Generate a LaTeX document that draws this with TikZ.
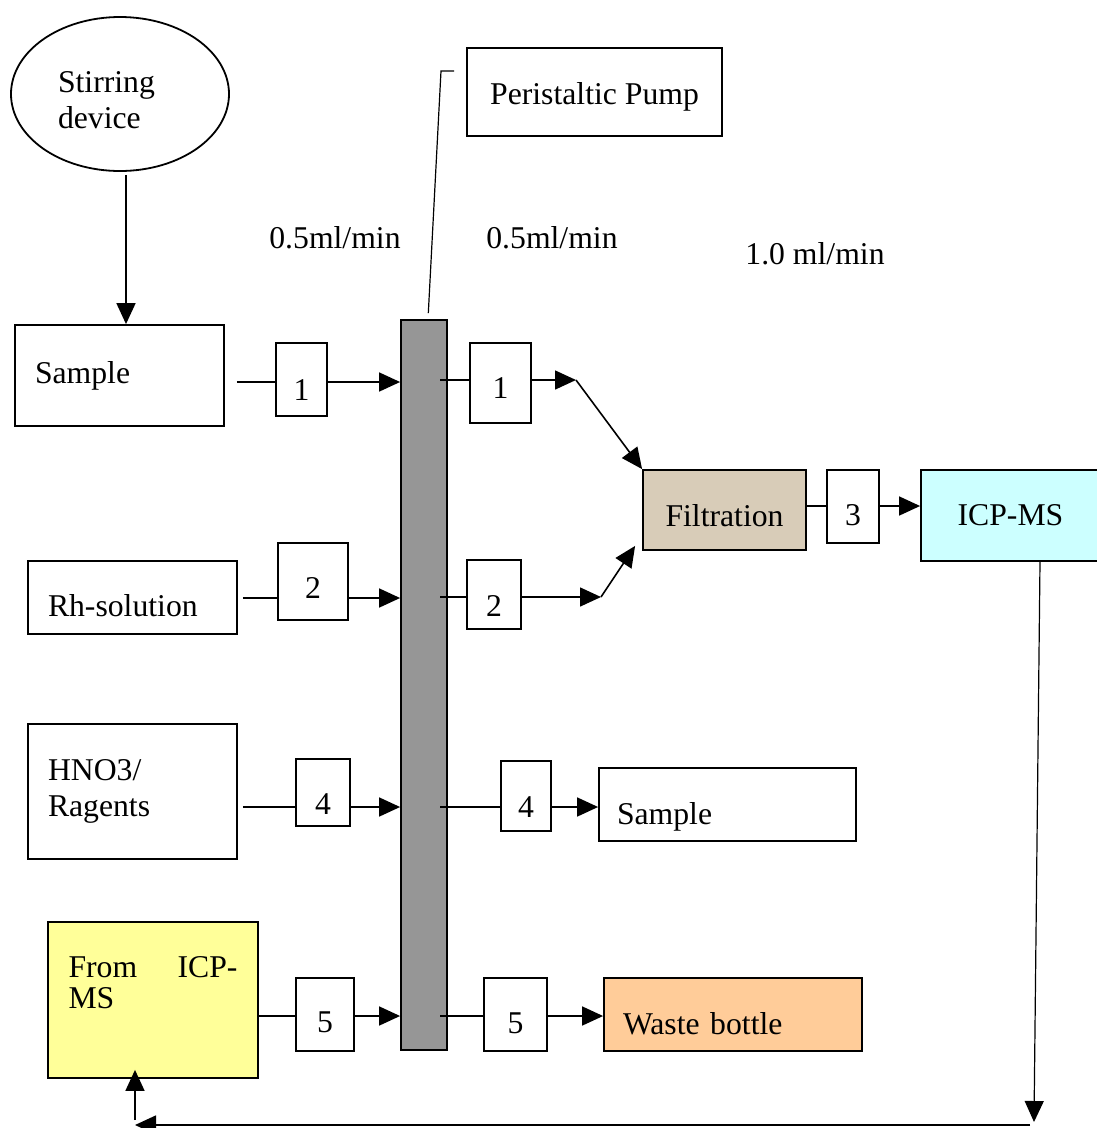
\documentclass[tikz,border=0pt]{standalone}
\usepackage{fontspec}
\setmainfont{Liberation Serif}
\usetikzlibrary{shapes.geometric,arrows.meta}
\definecolor{barGray}{RGB}{150,150,150}
\definecolor{filtBeige}{RGB}{216,204,184}
\definecolor{icpCyan}{RGB}{204,255,255}
\definecolor{fromYellow}{RGB}{255,255,153}
\definecolor{wasteOrange}{RGB}{255,204,153}
\begin{document}
\begin{tikzpicture}[x=1pt,y=-1pt,
  font=\fontsize{31.7}{36}\selectfont,
  box/.style={draw, line width=1.8pt, inner sep=0pt},
  numbox/.style={box, fill=white, text height=#1, text depth=0pt},
  numbox/.default=21.4pt,
  wire/.style={line width=1.6pt},
  arr/.style={wire, -{Triangle[length=21pt,width=19pt]}},
  lbox/.style={box, align=left}]
\useasboundingbox (0,0) rectangle (1096,1128);

% main nodes
\node[box, ellipse, minimum width=218pt, minimum height=154pt, text width=124pt, align=left, text height=33.6pt] (stir) at (120,94) {Stirring\\device};
\node[box, minimum width=255pt, minimum height=88pt, text height=24.7pt, text depth=0pt] (pump) at (594.5,92) {Peristaltic Pump};
\node[box, fill=barGray, minimum width=46pt, minimum height=730pt] (bar) at (424,685) {};
\node[lbox, minimum width=209pt, minimum height=101pt, text width=169pt] (sample) at (119.5,375.5) {Sample};
\node[lbox, minimum width=209pt, minimum height=73pt, text width=169pt, text height=38pt, text depth=0pt] (rh) at (132.5,597.5) {Rh-solution};
\node[lbox, minimum width=209pt, minimum height=135pt, text width=169pt] (hno) at (132.5,791.5) {HNO3/\\Ragents};
\node[lbox, fill=fromYellow, minimum width=210pt, minimum height=156pt, text width=169pt] (from) at (153,1000) {From\hfill ICP-\\[-5pt]MS\\~};
\node[lbox, minimum width=257pt, minimum height=73pt, text width=221pt, text height=40pt, text depth=0pt] (sample2) at (727.5,804.5) {Sample};
\node[lbox, fill=wasteOrange, minimum width=258pt, minimum height=73pt, text width=220pt, text height=40pt, text depth=0pt] (waste) at (733,1014.5) {Waste bottle};
\node[box, fill=filtBeige, minimum width=163pt, minimum height=80pt, text height=33pt, text depth=0pt] (filt) at (724.5,510) {Filtration};
\node[box, fill=icpCyan, minimum width=179pt, minimum height=91pt] (icp) at (1010.5,515.5) {ICP-MS};

% numbered tube boxes
\node[numbox=42.4pt, minimum width=51pt, minimum height=73pt] (n1a) at (301.5,379.5) {1};
\node[numbox=31.4pt, minimum width=61pt, minimum height=80pt] (n1b) at (500.5,383) {1};
\node[numbox=34.4pt, minimum width=70pt, minimum height=77pt] (n2a) at (313,581.5) {2};
\node[numbox=44.4pt, minimum width=54pt, minimum height=69pt] (n2b) at (494,594.5) {2};
\node[numbox=38.4pt, minimum width=52pt, minimum height=73pt] (n3) at (853,506.5) {3};
\node[numbox=44.4pt, minimum width=54pt, minimum height=67pt] (n4a) at (323,792.5) {4};
\node[numbox=43.4pt, minimum width=50pt, minimum height=70pt] (n4b) at (526,796) {4};
\node[numbox=36.4pt, minimum width=58pt, minimum height=73pt] (n5a) at (325,1014.5) {5};
\node[numbox=38.4pt, minimum width=63pt, minimum height=73pt] (n5b) at (515.5,1014.5) {5};

% flow rate labels
\node (rate1) at (335,238) {0.5ml/min};
\node (rate2) at (552,238) {0.5ml/min};
\node (rate3) at (815,254) {1.0 ml/min};

% helper coordinates
\coordinate (r1l) at (0,382);
\coordinate (r1r) at (0,380);
\coordinate (r2l) at (0,598);
\coordinate (r2r) at (0,597);
\coordinate (r3) at (0,506);
\coordinate (r4) at (0,807);
\coordinate (r5) at (0,1016);
\coordinate (bx) at (440,0);
\coordinate (sx) at (126,0);
\coordinate (j1) at (576,380);
\coordinate (j2) at (601,597);
\coordinate (icx) at (1040,0);
\coordinate (fb1) at (1034,1122);
\coordinate (fb2) at (1030,1125);
\coordinate (fb3) at (135,1125);
\coordinate (ld1) at (454,71);
\coordinate (ld2) at (441,71);

% pump leader
\draw[line width=1.2pt, shorten >=6pt] (ld1) -- (ld2) -- ([xshift=4pt]bar.north);

% stirring to sample
\draw[arr, shorten <=3pt] (sx |- stir.south) -- (sx |- sample.north);

% row 1
\draw[wire, shorten <=12pt] (sample.east |- r1l) -- (n1a.west |- r1l);
\draw[arr] (n1a.east |- r1l) -- (bar.west |- r1l);
\draw[wire] (bx |- r1r) -- (n1b.west |- r1r);
\draw[arr] (n1b.east |- r1r) -- (j1);
\draw[arr] (j1) -- (filt.north west);

% row 2
\draw[wire, shorten <=5pt] (rh.east |- r2l) -- (n2a.west |- r2l);
\draw[arr] (n2a.east |- r2l) -- (bar.west |- r2l);
\draw[wire] (bx |- r2r) -- (n2b.west |- r2r);
\draw[arr] (n2b.east |- r2r) -- (j2);
\draw[arr] (j2) -- ([shift={(-7,-5)}]filt.south west);

% row 3
\draw[wire] (filt.east |- r3) -- (n3.west |- r3);
\draw[arr] (n3.east |- r3) -- (icp.west |- r3);

% row 4
\draw[wire, shorten <=5pt] (hno.east |- r4) -- (n4a.west |- r4);
\draw[arr] (n4a.east |- r4) -- (bar.west |- r4);
\draw[wire] (bx |- r4) -- (n4b.west |- r4);
\draw[arr] (n4b.east |- r4) -- (sample2.west |- r4);

% row 5
\draw[wire] (from.east |- r5) -- (n5a.west |- r5);
\draw[arr] (n5a.east |- r5) -- (bar.west |- r5);
\draw[wire] (bx |- r5) -- (n5b.west |- r5);
\draw[arr] (n5b.east |- r5) -- (waste.west |- r5);

% feedback from ICP-MS
\draw[arr, line width=1.2pt] (icx |- icp.south) -- (fb1);
\draw[arr] (fb2) -- (fb3);
\draw[arr, shorten <=5pt, shorten >=-9pt] (fb3) -- (fb3 |- from.south);
\end{tikzpicture}
\end{document}
